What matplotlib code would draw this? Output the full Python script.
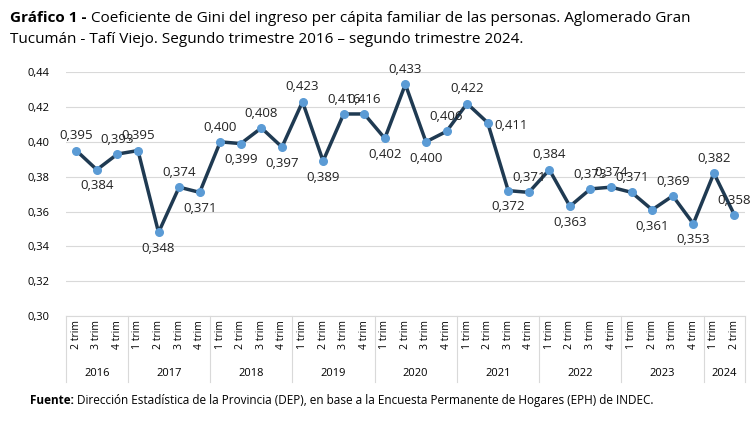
import matplotlib
matplotlib.use("Agg")
import matplotlib.pyplot as plt

plt.rcParams['font.family'] = ['Open Sans', 'DejaVu Sans']

years = ["2016", "2017", "2018", "2019", "2020", "2021", "2022", "2023", "2024"]
quarters_per_year = [[2, 3, 4], [1, 2, 3, 4], [1, 2, 3, 4], [1, 2, 3, 4], [1, 2, 3, 4],
                     [1, 2, 3, 4], [1, 2, 3, 4], [1, 2, 3, 4], [1, 2]]
gini = [0.395, 0.384, 0.393,
        0.395, 0.348, 0.374, 0.371,
        0.400, 0.399, 0.408, 0.397,
        0.423, 0.389, 0.416, 0.416,
        0.402, 0.433, 0.400, 0.406,
        0.422, 0.411, 0.372, 0.371,
        0.384, 0.363, 0.373, 0.374,
        0.371, 0.361, 0.369, 0.353,
        0.382, 0.358]
place = ['a', 'b', 'a',
         'a', 'b', 'a', 'b',
         'a', 'b', 'a', 'b',
         'a', 'b', 'a', 'a',
         'b', 'a', 'b', 'a',
         'a', 'r', 'b', 'a',
         'a', 'b', 'a', 'a',
         'a', 'b', 'a', 'b',
         'a', 'a']

tick_labels = [f"{q} trim" for qs in quarters_per_year for q in qs]
x = list(range(len(gini)))

fig = plt.figure(figsize=(7.5, 4.22), dpi=100)
ax = fig.add_axes([0.088, 0.251, 0.905, 0.578])
ax.plot(x, gini, color='#1F3A52', lw=2.5, zorder=2)
ax.scatter(x, gini, s=30, color='#5B9BD5', zorder=3)
for xi, v, p in zip(x, gini, place):
    lab = f"{v:.3f}".replace('.', ',')
    if p == 'a':
        ax.annotate(lab, (xi, v), xytext=(0, 6), textcoords='offset points', ha='center', va='bottom', fontsize=9.5, color='#222')
    elif p == 'b':
        ax.annotate(lab, (xi, v), xytext=(0, -7), textcoords='offset points', ha='center', va='top', fontsize=9.5, color='#222')
    else:
        ax.annotate(lab, (xi, v), xytext=(5, -2), textcoords='offset points', ha='left', va='center', fontsize=9.5, color='#222')

ax.set_ylim(0.30, 0.44)
ax.set_xlim(-0.5, len(gini) - 0.5)
yt = [0.30 + 0.02 * i for i in range(8)]
ax.set_yticks(yt)
ax.set_yticklabels([f"{v:.2f}".replace('.', ',') for v in yt], fontsize=8)
ax.yaxis.grid(True, color='#D9D9D9', lw=0.8)
ax.set_axisbelow(True)
for s in ['top', 'right', 'left']:
    ax.spines[s].set_visible(False)
ax.spines['bottom'].set_color('#D9D9D9')
ax.tick_params(axis='y', length=0, pad=12)
ax.set_xticks(x)
ax.set_xticklabels(tick_labels, rotation=90, fontsize=7.5)
ax.tick_params(axis='x', length=0, pad=3)

pos = -0.5
trans = ax.get_xaxis_transform()
ax.plot([pos, pos], [0, -0.27], transform=trans, color='#D9D9D9', lw=0.8, clip_on=False)
for yr, qs in zip(years, quarters_per_year):
    end = pos + len(qs)
    ax.plot([end, end], [0, -0.27], transform=trans, color='#D9D9D9', lw=0.8, clip_on=False)
    ax.text((pos + end) / 2, -0.234, yr, transform=trans, ha='center', va='center', fontsize=8)
    pos = end

t1 = fig.text(0.013, 0.975, "Gráfico 1 -", fontsize=11, fontweight='bold', va='top', ha='left')
fig.canvas.draw()
bb = t1.get_window_extent()
fig.text(bb.x1 / 750 + 0.006, 0.975, "Coeficiente de Gini del ingreso per cápita familiar de las personas. Aglomerado Gran",
         fontsize=11, va='top', ha='left')
fig.text(0.013, 0.925, "Tucumán - Tafí Viejo. Segundo trimestre 2016 – segundo trimestre 2024.",
         fontsize=11, va='top', ha='left')
t2 = fig.text(0.04, 0.035, "Fuente:", fontsize=8.5, fontweight='bold', va='bottom', ha='left')
fig.canvas.draw()
bb2 = t2.get_window_extent()
fig.text(bb2.x1 / 750 + 0.004, 0.035, "Dirección Estadística de la Provincia (DEP), en base a la Encuesta Permanente de Hogares (EPH) de INDEC.",
         fontsize=8.5, va='bottom', ha='left')

fig.savefig("out.png", dpi=100)
